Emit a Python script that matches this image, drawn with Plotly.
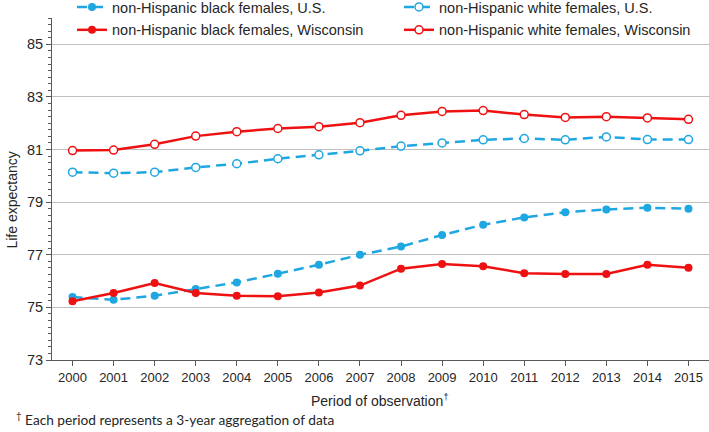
import plotly.graph_objects as go

years = [str(y) for y in range(2000, 2016)]
black_us = [75.39, 75.29, 75.44, 75.70, 75.95, 76.28, 76.62, 77.00, 77.31, 77.75, 78.14, 78.42, 78.62, 78.72, 78.79, 78.75]
white_us = [80.14, 80.10, 80.14, 80.32, 80.46, 80.65, 80.80, 80.95, 81.13, 81.25, 81.37, 81.42, 81.37, 81.48, 81.38, 81.38]
black_wi = [75.23, 75.55, 75.93, 75.55, 75.44, 75.42, 75.57, 75.83, 76.47, 76.65, 76.56, 76.30, 76.27, 76.27, 76.62, 76.51]
white_wi = [80.96, 80.98, 81.20, 81.51, 81.68, 81.80, 81.87, 82.02, 82.30, 82.45, 82.48, 82.33, 82.22, 82.25, 82.20, 82.15]
y_ticks = [73, 75, 77, 79, 81, 83, 85]

BLUE = "#1fa7e1"
RED = "#ee1111"
FONT = "Liberation Sans, Arial, sans-serif"
TXT = "#262626"

fig = go.Figure()
fig.add_trace(go.Scatter(x=years, y=black_us, name="non-Hispanic black females, U.S.", mode="lines+markers",
                         legend="legend", legendgroup="a", legendrank=1,
                         line=dict(color=BLUE, width=2.5, dash="10px,6px"),
                         marker=dict(symbol="circle", size=8, color=BLUE)))
fig.add_trace(go.Scatter(x=years, y=white_us, name="non-Hispanic white females, U.S.", mode="lines+markers",
                         legend="legend2", legendgroup="b", legendrank=1,
                         line=dict(color=BLUE, width=2.5, dash="10px,6px"),
                         marker=dict(symbol="circle", size=8, color="white", line=dict(color=BLUE, width=1.5))))
fig.add_trace(go.Scatter(x=years, y=black_wi, name="non-Hispanic black females, Wisconsin", mode="lines+markers",
                         legend="legend", legendgroup="c", legendrank=2,
                         line=dict(color=RED, width=2.5),
                         marker=dict(symbol="circle", size=8, color=RED)))
fig.add_trace(go.Scatter(x=years, y=white_wi, name="non-Hispanic white females, Wisconsin", mode="lines+markers",
                         legend="legend2", legendgroup="d", legendrank=2,
                         line=dict(color=RED, width=2.5),
                         marker=dict(symbol="circle", size=8, color="white", line=dict(color=RED, width=1.5))))

leg_y = (360.5 + 9) / 342.5
leg_common = dict(orientation="v", xanchor="left", yanchor="top", xref="container", yref="paper",
                  font=dict(size=14.5, color=TXT, family=FONT), bgcolor="rgba(0,0,0,0)",
                  itemwidth=30, tracegroupgap=1, y=leg_y)

fig.update_layout(
    width=709, height=432,
    margin=dict(l=52, r=0, t=18, b=71.5, autoexpand=False),
    paper_bgcolor="white", plot_bgcolor="white",
    font=dict(family=FONT, size=13, color=TXT),
    showlegend=True,
    legend=dict(x=72 / 709, **leg_common),
    legend2=dict(x=399 / 709, **leg_common),
    xaxis=dict(type="category", range=[-0.5, 15.5], showgrid=False,
               showline=True, linecolor="#595959", linewidth=1,
               ticks="outside", ticklen=5, tickcolor="#595959",
               tickfont=dict(size=13)),
    yaxis=dict(range=[73, 86], tickvals=y_ticks, showgrid=True, gridcolor="#bfbfbf", gridwidth=1,
               showline=True, linecolor="#595959", linewidth=1,
               ticks="outside", ticklen=5, tickcolor="#595959",
               minor=dict(dtick=0.25, tick0=73, ticks="outside", ticklen=3, tickcolor="#595959", showgrid=False),
               zeroline=False, tickfont=dict(size=14.5)),
)

fig.add_annotation(text="Life expectancy", xref="paper", yref="paper", x=-0.061, y=0.469,
                   textangle=-90, showarrow=False, font=dict(size=14, family=FONT, color=TXT),
                   xanchor="center", yanchor="middle")
fig.add_annotation(text="Period of observation<sup>†</sup>", xref="paper", yref="paper",
                   x=(380 - 52) / 657, y=(360.5 - 401) / 342.5, showarrow=False,
                   font=dict(size=14, family=FONT, color=TXT), xanchor="center", yanchor="middle")
fig.add_annotation(text="<sup>†</sup> Each period represents a 3-year aggregation of data", xref="paper", yref="paper",
                   x=(14 - 52) / 657, y=(360.5 - 420) / 342.5, showarrow=False,
                   font=dict(size=13.7, family="Lato, Open Sans, sans-serif", color=TXT),
                   xanchor="left", yanchor="middle")

fig.write_html("out.html", config={"displayModeBar": False},
               post_script="document.body.style.margin='0';")
